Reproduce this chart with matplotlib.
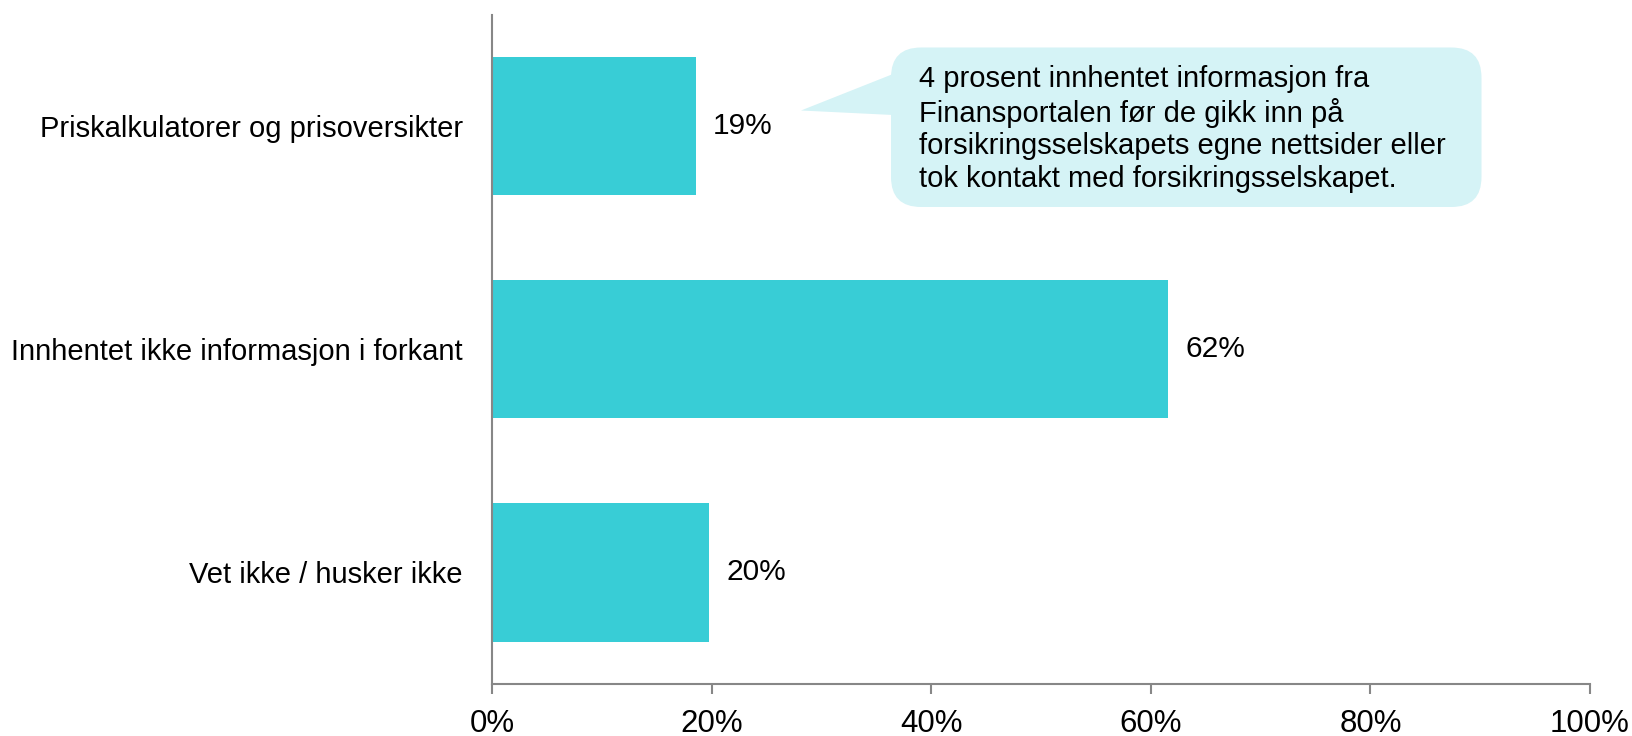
import matplotlib.pyplot as plt
from matplotlib.patches import FancyBboxPatch, Polygon
from matplotlib.transforms import Affine2D
import numpy as np

plt.rcParams.update({"font.family": ["Liberation Sans", "DejaVu Sans"], "font.size": 21})

kategorier = ["Priskalkulatorer og prisoversikter",
              "Innhentet ikke informasjon i forkant",
              "Vet ikke / husker ikke"]
andel = [18.6, 61.6, 19.8]
xticks = [0, 20, 40, 60, 80, 100]
merknad = ("4 prosent innhentet informasjon fra\n"
           "Finansportalen før de gikk inn på\n"
           "forsikringsselskapets egne nettsider eller\n"
           "tok kontakt med forsikringsselskapet.")

bar_farge = "#38CDD6"
boble_farge = "#D5F3F6"
akse_farge = "#878787"

fig = plt.figure(figsize=(16.33, 7.36), dpi=100)
ax = fig.add_axes([0.3013, 0.0707, 0.6724, 0.9093])

y = np.arange(len(kategorier))
ax.barh(y, andel, height=0.62, color=bar_farge, zorder=2)
for yi, v in zip(y, andel):
    ax.annotate(f"{v:.0f}%", (v, yi), xytext=(12, 0), textcoords="offset points",
                va="center", ha="left", fontsize=21.5)

ax.set_xlim(0, 100)
ax.set_ylim(len(kategorier) - 0.5, -0.5)
ax.set_yticks(y)
ax.set_yticklabels(kategorier)
ax.set_xticks(xticks)
ax.set_xticklabels([f"{t}%" for t in xticks])
ax.tick_params(axis="y", length=0, pad=21, labelsize=21)
ax.tick_params(axis="x", length=7, width=1.5, color=akse_farge, pad=11, labelsize=22.5)
for s in ["top", "right"]:
    ax.spines[s].set_visible(False)
for s in ["left", "bottom"]:
    ax.spines[s].set_color(akse_farge)
    ax.spines[s].set_linewidth(1.5)

# snakkeboble i pikselkoordinater (origo oppe til venstre)
px = Affine2D().scale(1 / 100, -1 / 100).translate(0, 7.36) + fig.dpi_scale_trans
boks = FancyBboxPatch((891, 47.5), 590.5, 159.5,
                      boxstyle="round,pad=0,rounding_size=30",
                      transform=px, fc=boble_farge, ec="none", clip_on=False)
hale = Polygon([(893, 74), (801, 110.5), (893, 115)], closed=True,
               transform=px, fc=boble_farge, ec="none", clip_on=False)
fig.add_artist(hale)
fig.add_artist(boks)
fig.text(919, 65, merknad, transform=px, ha="left", va="top",
         fontsize=21, linespacing=1.2)

fig.savefig("out.png", dpi=100)
